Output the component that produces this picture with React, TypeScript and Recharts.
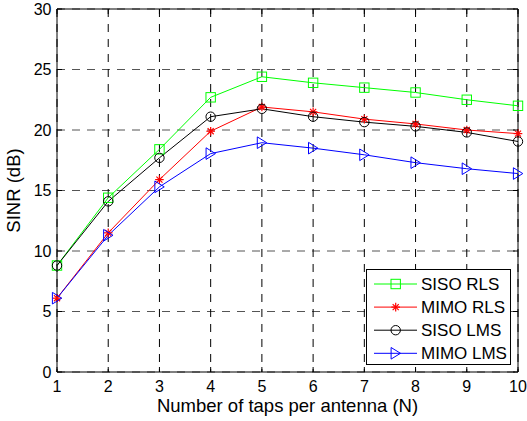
import React from 'react';
import {
  LineChart,
  Line,
  XAxis,
  YAxis,
  CartesianGrid,
  ReferenceLine,
} from 'recharts';

const taps = [1, 2, 3, 4, 5, 6, 7, 8, 9, 10];
const sisoRls = [8.8, 14.4, 18.4, 22.7, 24.4, 23.9, 23.5, 23.1, 22.5, 22.0];
const mimoRls = [6.1, 11.5, 15.9, 19.9, 21.9, 21.5, 20.9, 20.5, 20.0, 19.7];
const sisoLms = [8.8, 14.1, 17.7, 21.1, 21.75, 21.1, 20.65, 20.3, 19.8, 19.05];
const mimoLms = [6.1, 11.3, 15.3, 18.05, 18.95, 18.5, 17.95, 17.3, 16.8, 16.4];
const xTicks = [1, 2, 3, 4, 5, 6, 7, 8, 9, 10];
const yTicks = [0, 5, 10, 15, 20, 25, 30];

const W = 527;
const H = 421;
const M = { top: 9, right: 9, left: 0, bottom: 0 };
const Y_AXIS_W = 57;
const X_AXIS_H = 49;
const PLOT_LEFT = M.left + Y_AXIS_W;
const PLOT_RIGHT = W - M.right;
const PLOT_TOP = M.top;
const PLOT_BOTTOM = H - X_AXIS_H;

const FONT = '"Liberation Sans", Arial, Helvetica, sans-serif';

const data = taps.map((n, i) => ({
  n,
  sisoRls: sisoRls[i],
  mimoRls: mimoRls[i],
  sisoLms: sisoLms[i],
  mimoLms: mimoLms[i],
}));

type Marker = 'square' | 'star' | 'circle' | 'triangle';

function MarkerShape({ kind, cx, cy, color }: { kind: Marker; cx: number; cy: number; color: string }) {
  if (kind === 'square') {
    return <rect x={cx - 4.7} y={cy - 4.7} width={9.4} height={9.4} fill="none" stroke={color} strokeWidth={1} />;
  }
  if (kind === 'circle') {
    return <circle cx={cx} cy={cy} r={4.7} fill="none" stroke={color} strokeWidth={1} />;
  }
  if (kind === 'triangle') {
    const pts = `${cx + 4.8},${cy} ${cx - 4.6},${cy - 5.8} ${cx - 4.6},${cy + 5.8}`;
    return <polygon points={pts} fill="none" stroke={color} strokeWidth={1} />;
  }
  // asterisk: plus + cross
  const r = 4.3;
  const d = r * 0.707;
  return (
    <g stroke={color} strokeWidth={1.2}>
      <line x1={cx - r} y1={cy} x2={cx + r} y2={cy} />
      <line x1={cx} y1={cy - r} x2={cx} y2={cy + r} />
      <line x1={cx - d} y1={cy - d} x2={cx + d} y2={cy + d} />
      <line x1={cx - d} y1={cy + d} x2={cx + d} y2={cy - d} />
    </g>
  );
}

const series: { key: string; name: string; color: string; marker: Marker }[] = [
  { key: 'sisoRls', name: 'SISO RLS', color: '#00ff00', marker: 'square' },
  { key: 'mimoRls', name: 'MIMO RLS', color: '#ff0000', marker: 'star' },
  { key: 'sisoLms', name: 'SISO LMS', color: '#000000', marker: 'circle' },
  { key: 'mimoLms', name: 'MIMO LMS', color: '#0000ff', marker: 'triangle' },
];

function XTick(props: any) {
  const { x, payload } = props;
  return (
    <g>
      <line x1={x} y1={PLOT_BOTTOM} x2={x} y2={PLOT_BOTTOM - 5} stroke="#000" />
      <line x1={x} y1={PLOT_TOP} x2={x} y2={PLOT_TOP + 5} stroke="#000" />
      <text x={x} y={PLOT_BOTTOM + 19.5} textAnchor="middle" fontSize={16} fontFamily={FONT} fill="#000">
        {payload.value}
      </text>
    </g>
  );
}

function YTick(props: any) {
  const { y, payload } = props;
  return (
    <g>
      <line x1={PLOT_LEFT} y1={y} x2={PLOT_LEFT + 5} y2={y} stroke="#000" />
      <line x1={PLOT_RIGHT} y1={y} x2={PLOT_RIGHT - 5} y2={y} stroke="#000" />
      <text x={PLOT_LEFT - 5.5} y={y + 5.7} textAnchor="end" fontSize={16} fontFamily={FONT} fill="#000">
        {payload.value}
      </text>
    </g>
  );
}

function LegendBox() {
  return (
    <div
      style={{
        position: 'absolute',
        left: 366,
        top: 269,
        width: 145,
        height: 96,
        border: '1px solid #000',
        background: '#fff',
        boxSizing: 'border-box',
      }}
    >
      <svg width={145} height={96} style={{ position: 'absolute', left: -1, top: -1 }}>
        {series.map((s, i) => {
          const cy = 15 + i * 23.1;
          return (
            <g key={s.key}>
              <line x1={8} y1={cy} x2={51} y2={cy} stroke={s.color} strokeWidth={1} />
              <MarkerShape kind={s.marker} cx={29.7} cy={cy} color={s.color} />
              <text x={55} y={cy + 6} fontSize={17} fontFamily={FONT} fill="#000">
                {s.name}
              </text>
            </g>
          );
        })}
      </svg>
    </div>
  );
}

export default function App() {
  return (
    <div style={{ position: 'absolute', left: 0, top: 0, width: W, height: H, background: '#fff' }}>
      <LineChart width={W} height={H} data={data} margin={M}>
        <CartesianGrid stroke="#555" strokeDasharray="8 7" vertical={false} />
        <CartesianGrid stroke="#000" strokeDasharray="8 7" horizontal={false} />
        <XAxis
          dataKey="n"
          type="number"
          domain={[1, 10]}
          ticks={xTicks}
          height={X_AXIS_H}
          axisLine={{ stroke: '#000' }}
          tickLine={false}
          tickSize={0}
          tick={<XTick />}
          label={{
            value: 'Number of taps per antenna (N)',
            position: 'insideBottom',
            offset: 9,
            style: { fontSize: 18.5, fontFamily: FONT, fill: '#000' },
          }}
        />
        <YAxis
          type="number"
          domain={[0, 30]}
          ticks={yTicks}
          width={Y_AXIS_W}
          axisLine={{ stroke: '#000' }}
          tickLine={false}
          tickSize={0}
          tick={<YTick />}
          label={{
            value: 'SINR (dB)',
            angle: -90,
            position: 'insideLeft',
            offset: 13,
            style: { fontSize: 18.5, fontFamily: FONT, fill: '#000', textAnchor: 'middle' },
          }}
        />
        <ReferenceLine y={30} stroke="#000" />
        <ReferenceLine x={10} stroke="#000" />
        {series.map((s) => (
          <Line
            key={s.key}
            dataKey={s.key}
            name={s.name}
            type="linear"
            stroke={s.color}
            strokeWidth={1}
            isAnimationActive={false}
            dot={(p: any) => <MarkerShape key={`${s.key}-${p.index}`} kind={s.marker} cx={p.cx} cy={p.cy} color={s.color} />}
            activeDot={false}
          />
        ))}
      </LineChart>
      <LegendBox />
    </div>
  );
}
